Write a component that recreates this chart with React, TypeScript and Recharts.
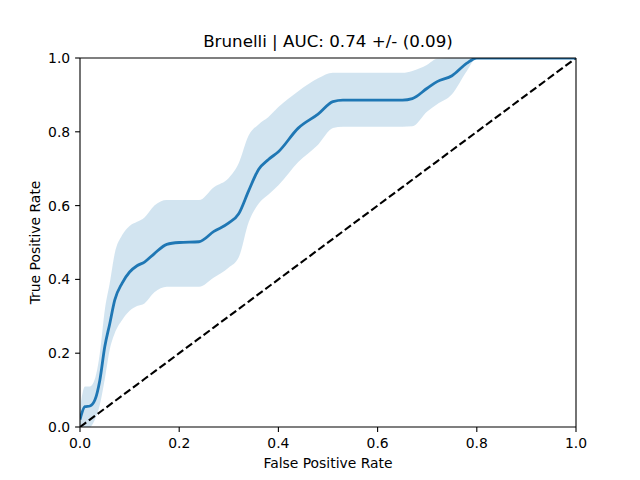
import React from 'react';
import {
  ComposedChart,
  Area,
  Line,
  XAxis,
  YAxis,
  ReferenceLine,
  Label,
} from 'recharts';

// mean ROC curve over folds, with +/- 1 std band
const fpr = [0, 0.01, 0.02, 0.03, 0.04, 0.05, 0.06, 0.07, 0.085, 0.1, 0.115, 0.13, 0.15, 0.175, 0.2, 0.24, 0.27, 0.3, 0.32, 0.34, 0.36, 0.38, 0.4, 0.44, 0.48, 0.51, 0.53, 0.6, 0.65, 0.67, 0.7, 0.72, 0.75, 0.78, 0.8, 0.85, 1.0];
const meanTpr = [0.02, 0.055, 0.057, 0.073, 0.127, 0.218, 0.28, 0.344, 0.39, 0.42, 0.437, 0.447, 0.47, 0.495, 0.5, 0.502, 0.53, 0.553, 0.578, 0.64, 0.698, 0.725, 0.746, 0.81, 0.848, 0.882, 0.886, 0.886, 0.886, 0.89, 0.918, 0.936, 0.952, 0.986, 1.0, 1.0, 1.0];
const upperTpr = [0.05, 0.11, 0.11, 0.13, 0.2, 0.317, 0.39, 0.47, 0.52, 0.545, 0.556, 0.568, 0.6, 0.615, 0.615, 0.615, 0.65, 0.675, 0.715, 0.79, 0.82, 0.84, 0.867, 0.91, 0.945, 0.96, 0.96, 0.96, 0.96, 0.965, 0.982, 0.998, 1, 1, 1, 1, 1];
const lowerTpr = [0, 0, 0, 0.02, 0.06, 0.13, 0.21, 0.254, 0.29, 0.315, 0.328, 0.335, 0.365, 0.38, 0.38, 0.38, 0.405, 0.432, 0.46, 0.555, 0.605, 0.63, 0.655, 0.718, 0.765, 0.81, 0.814, 0.814, 0.814, 0.815, 0.855, 0.875, 0.902, 0.965, 1.0, 1, 1];
const ticks = [0, 0.2, 0.4, 0.6, 0.8, 1.0];

const data = fpr.map((x, i) => ({
  fpr: x,
  mean: meanTpr[i],
  band: [lowerTpr[i], upperTpr[i]],
  chance: x,
}));

const FONT = 'DejaVu Sans, sans-serif';
const tickStyle = { fill: '#000', fontSize: 13.9, fontFamily: FONT };

export default function App() {
  return (
    <div style={{ position: 'absolute', left: 0, top: 0, width: 640, height: 480, background: '#fff' }}>
      <div
        style={{
          position: 'absolute',
          top: 31,
          left: 80,
          width: 496,
          textAlign: 'center',
          fontFamily: FONT,
          fontSize: 16.7,
          lineHeight: '20px',
          color: '#000',
        }}
      >
        Brunelli | AUC: 0.74 +/- (0.09)
      </div>
      <ComposedChart width={640} height={480} data={data} margin={{ top: 58, right: 64, bottom: 0, left: 0 }}>
        <XAxis
          dataKey="fpr"
          type="number"
          domain={[0, 1]}
          ticks={ticks}
          tickFormatter={(v) => v.toFixed(1)}
          tick={tickStyle}
          tickSize={4.9}
          tickMargin={6.5}
          height={53}
          stroke="#000"
          strokeWidth={1.1}
          allowDataOverflow
        >
          <Label value="False Positive Rate" position="insideBottom" offset={12} style={{ fill: '#000', fontSize: 13.9, fontFamily: FONT }} />
        </XAxis>
        <YAxis
          type="number"
          domain={[0, 1]}
          ticks={ticks}
          tickFormatter={(v) => v.toFixed(1)}
          tick={tickStyle}
          tickSize={4.9}
          tickMargin={4.9}
          width={80}
          stroke="#000"
          strokeWidth={1.1}
          allowDataOverflow
        >
          <Label value="True Positive Rate" angle={-90} position="insideLeft" offset={35} style={{ fill: '#000', fontSize: 13.9, fontFamily: FONT, textAnchor: 'middle' }} />
        </YAxis>
        <Area
          dataKey="band"
          type="monotone"
          stroke="none"
          fill="#1f77b4"
          fillOpacity={0.2}
          isAnimationActive={false}
        />
        <Line
          dataKey="chance"
          type="linear"
          stroke="#000"
          strokeWidth={2.1}
          strokeDasharray="7.7 3.3"
          dot={false}
          isAnimationActive={false}
        />
        <Line
          dataKey="mean"
          type="monotone"
          stroke="#1f77b4"
          strokeWidth={2.8}
          dot={false}
          isAnimationActive={false}
        />
        <ReferenceLine y={1} stroke="#000" strokeWidth={1.1} zIndex={1000} />
        <ReferenceLine x={1} stroke="#000" strokeWidth={1.1} zIndex={1000} />
      </ComposedChart>
    </div>
  );
}
